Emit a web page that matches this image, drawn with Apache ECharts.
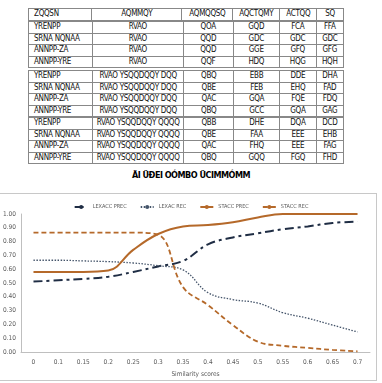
<!DOCTYPE html>
<html lang="en">
<head>
  <meta charset="UTF-8">
  <title>Similarity scores</title>
  <script src="https://cdn.jsdelivr.net/npm/echarts@6/dist/echarts.min.js"></script>
  <style>
    body { margin: 0; width: 382px; height: 383px; background: #fff; position: relative; overflow: hidden; font-family: "DejaVu Sans Condensed", "DejaVu Sans", sans-serif; }
    .tbl { position: absolute; left: 28px; width: 316px; border-collapse: collapse; border: 1px solid #888; font-size: 8px; color: #111; }
    .tbl td { border: 1px solid #888; height: 10.5px; padding: 0; text-align: center; line-height: 10px; letter-spacing: -0.3px; }
    .tbl td:first-child { text-align: left; padding-left: 5px; }
    .caption { position: absolute; top: 170px; left: 0; width: 382px; text-align: center; font-size: 9px; font-weight: bold; letter-spacing: -0.5px; }
    #frame { position: absolute; left: -1px; top: 193px; width: 376px; height: 186px; border: 1px solid #c8c8c8; }
    #chart { position: absolute; left: 0; top: 190px; width: 382px; height: 193px; }
  </style>
</head>
<body>
  <!-- table above the chart -->
  <div id="tables"></div>
  <div class="caption">ÄI ÜÐEI OÓMBO ÜCIMMÓMM</div>
  <div id="frame"></div>
  <div id="chart"></div>

  <script>
    // table text (as printed)
    let headRow = ['ZQQSN', 'AQMMQY', 'AQMQQSQ', 'AQCTQMY', 'ACTQQ', 'SQ'];
    let rowNames = ['YRENPP', 'SRNA NQNAA', 'ANNPP-ZA', 'ANNPP-YRE'];
    let groupMethods = ['RVAO', 'RVAO YSQQDQQY DQQ', 'RVAO YSQQDQQY QQQQ'];
    let groupCells = [
      [['QOA', 'GQD', 'FCA', 'FFA'], ['QQD', 'GDC', 'GDC', 'GDC'], ['QQD', 'GGE', 'GFQ', 'GFG'], ['QQF', 'HDQ', 'HQG', 'HQH']],
      [['QBQ', 'EBB', 'DDE', 'DHA'], ['QBE', 'FEB', 'EHQ', 'FAD'], ['QAC', 'GQA', 'FQE', 'FDQ'], ['QBQ', 'GCC', 'GQA', 'GAG']],
      [['QBB', 'DHE', 'DQA', 'DCD'], ['QBE', 'FAA', 'EEE', 'EHB'], ['QAC', 'FHQ', 'EEE', 'FAG'], ['QBQ', 'GQQ', 'FGQ', 'FHD']]
    ];

    // chart data
    let scores = ['0', '0.1', '0.15', '0.2', '0.25', '0.3', '0.35', '0.4', '0.45', '0.5', '0.55', '0.6', '0.65', '0.7'];
    let lexaccPrec = [0.51, 0.52, 0.53, 0.545, 0.58, 0.62, 0.66, 0.78, 0.83, 0.86, 0.89, 0.91, 0.935, 0.945];
    let lexacRec = [0.665, 0.665, 0.66, 0.655, 0.645, 0.625, 0.595, 0.43, 0.38, 0.355, 0.285, 0.245, 0.195, 0.145];
    let staccPrec = [0.58, 0.58, 0.58, 0.59, 0.74, 0.855, 0.91, 0.92, 0.94, 0.975, 1.0, 1.0, 1.0, 1.0];
    let staccRec = [0.865, 0.865, 0.865, 0.865, 0.865, 0.85, 0.47, 0.34, 0.195, 0.075, 0.045, 0.03, 0.015, 0.005];

    // build tables
    let colW = [60, 94, 51, 47, 37, 27];
    let tops = [8, 21, 70, 117];
    function makeTable(rows, top) {
      let t = document.createElement('table');
      t.className = 'tbl';
      t.style.top = top + 'px';
      rows.forEach(function (r) {
        let tr = document.createElement('tr');
        r.forEach(function (c, i) {
          let td = document.createElement('td');
          td.textContent = c;
          td.style.width = colW[i] + 'px';
          tr.appendChild(td);
        });
        t.appendChild(tr);
      });
      document.getElementById('tables').appendChild(t);
    }
    makeTable([headRow], tops[0]);
    groupMethods.forEach(function (m, g) {
      let rows = rowNames.map(function (n, i) {
        return [n, m].concat(groupCells[g][i]);
      });
      makeTable(rows, tops[g + 1]);
    });

    let myChart = echarts.init(document.getElementById('chart'));
    let labelFont = { fontSize: 6.5, color: '#595959', fontFamily: 'Liberation Sans Narrow, DejaVu Sans Condensed, sans-serif' };

    let option = {
      animation: false,
      legend: {
        top: 9,
        left: 'center',
        itemWidth: 13,
        itemHeight: 5,
        itemGap: 13,
        textStyle: { fontSize: 5.5, color: '#595959', fontFamily: 'DejaVu Sans Condensed, sans-serif' },
        data: ['LEXACC PREC', 'LEXAC REC', 'STACC PREC', 'STACC REC']
      },
      grid: {
        left: 15,
        right: 12,
        top: 24,
        bottom: 31
      },
      xAxis: {
        type: 'category',
        data: scores,
        boundaryGap: true,
        name: 'Similarity scores',
        nameLocation: 'middle',
        nameGap: 17,
        nameTextStyle: labelFont,
        axisLine: { lineStyle: { color: '#bfbfbf' } },
        axisTick: { show: false },
        axisLabel: Object.assign({ margin: 7 }, labelFont)
      },
      yAxis: {
        type: 'value',
        min: 0,
        max: 1,
        interval: 0.1,
        axisLine: { show: true, lineStyle: { color: '#bfbfbf' } },
        splitLine: { show: false },
        axisLabel: Object.assign({ margin: 5, formatter: function (v) { return v.toFixed(2); } }, labelFont)
      },
      series: [
        {
          name: 'LEXACC PREC',
          type: 'line',
          data: lexaccPrec,
          symbol: 'none',
          smooth: 0.4,
          color: '#1f2d44',
          lineStyle: { width: 2, type: [9, 4, 3, 4] }
        },
        {
          name: 'LEXAC REC',
          type: 'line',
          data: lexacRec,
          symbol: 'none',
          smooth: 0.4,
          color: '#44546a',
          lineStyle: { width: 1.3, type: [1.5, 1.5] }
        },
        {
          name: 'STACC PREC',
          type: 'line',
          data: staccPrec,
          symbol: 'none',
          smooth: 0.4,
          color: '#b5692a',
          lineStyle: { width: 2 }
        },
        {
          name: 'STACC REC',
          type: 'line',
          data: staccRec,
          symbol: 'none',
          smooth: 0.4,
          color: '#b5692a',
          lineStyle: { width: 1.8, type: [5, 3] }
        }
      ]
    };

    myChart.setOption(option);
  </script>
</body>
</html>
